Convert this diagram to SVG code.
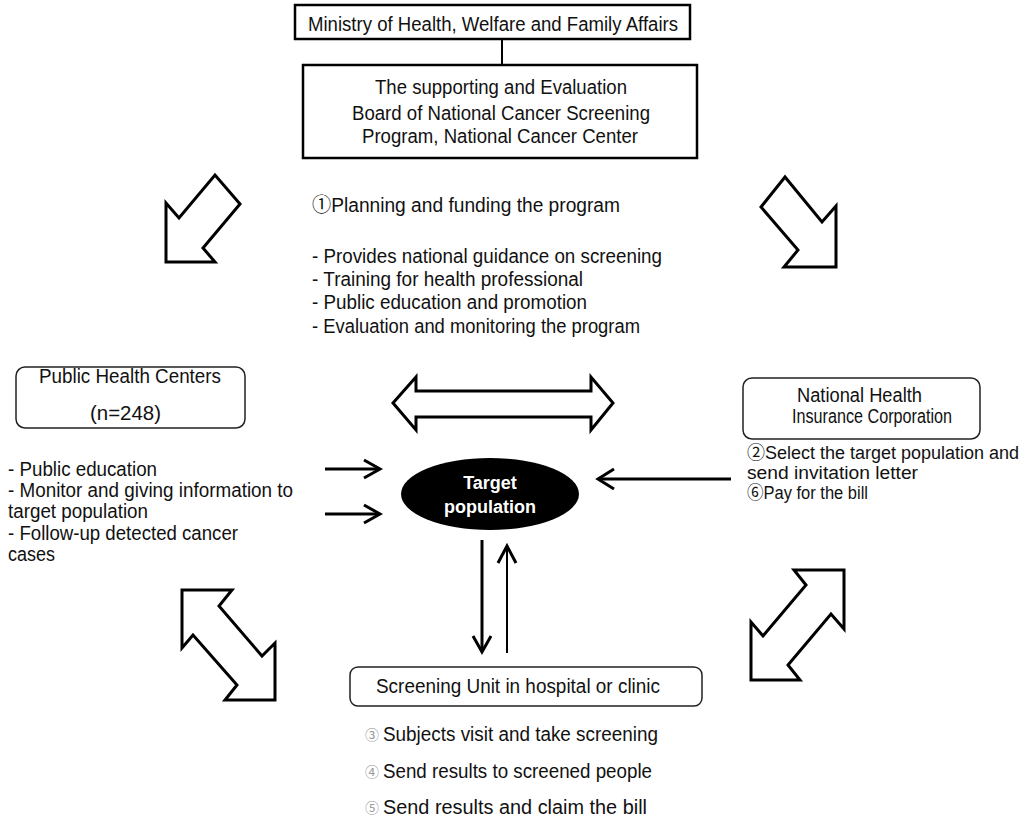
<svg xmlns="http://www.w3.org/2000/svg" width="1032" height="821" viewBox="0 0 1032 821">
<style>
.t{font-family:"Liberation Sans","Noto Sans CJK KR",sans-serif;font-size:20px;fill:#111}
.s{font-family:"Liberation Sans","Noto Sans CJK KR",sans-serif;font-size:18px;fill:#111}
.b{font-family:"Liberation Sans","Noto Sans CJK KR",sans-serif;font-size:20px;fill:#111}
.n{font-family:"Noto Sans CJK KR","DejaVu Sans",sans-serif;font-size:14px;fill:#999}
.w{font-family:"Liberation Sans",sans-serif;font-size:18px;font-weight:bold;fill:#fff;text-anchor:middle}
.box{fill:#fff;stroke:#000;stroke-width:2.5}
.rbox{fill:#fff;stroke:#222;stroke-width:1.5}
.hollow{fill:#fff;stroke:#000;stroke-width:3;stroke-linejoin:miter}
.ln{fill:none;stroke:#000;stroke-width:3}
.ln2{fill:none;stroke:#000;stroke-width:2}
</style>
<defs>
<clipPath id="phcClip"><rect x="16" y="368" width="229" height="60"/></clipPath>
</defs>
<rect width="1032" height="821" fill="#fff"/>

<g id="connectors">
<line class="ln2" x1="502" y1="39" x2="502" y2="65"/>
<polygon class="hollow" points="166,262 166,203 179,218 215,175 240,204 203,248 215,262"/>
<polygon class="hollow" points="785,177 761,207 798,250 784,267 836,267 836,206 822,222"/>
<polygon class="hollow" points="393,403 416,377 416,391 591,391 591,377 613,403 591,430 591,417 416,417 416,430"/>
<polygon class="hollow" points="182,590 232,590 219,606 262,656 275,643 275,700 225,700 237,685 193,635 182,648"/>
<polygon class="hollow" points="844,570 844,629 831,614 788,665 800,680 751,680 751,622 763,636 806,585 794,570"/>
<line class="ln" x1="325" y1="469" x2="378" y2="469"/>
<polyline class="ln" points="364,460 380,469 364,478"/>
<line class="ln" x1="325" y1="514" x2="378" y2="514"/>
<polyline class="ln" points="364,505 380,514 364,523"/>
<line class="ln" x1="600" y1="479" x2="731" y2="479"/>
<polyline class="ln" points="614,469 598,479 614,489"/>
<line class="ln" x1="482" y1="540" x2="482" y2="650"/>
<polyline class="ln" points="473,636 482,652 491,636"/>
<line class="ln2" x1="507" y1="653" x2="507" y2="548"/>
<polyline class="ln" points="498,563 507,546 516,563"/>
</g>

<g id="ministry">
<rect class="box" x="295" y="5" width="395" height="34"/>
<text class="t" x="308" y="31" textLength="370" lengthAdjust="spacingAndGlyphs">Ministry of Health, Welfare and Family Affairs</text>
</g>

<g id="board">
<rect class="box" x="303" y="65" width="394" height="93"/>
<text class="b" x="375" y="94" textLength="252" lengthAdjust="spacingAndGlyphs">The supporting and Evaluation</text>
<text class="b" x="352" y="120" textLength="298" lengthAdjust="spacingAndGlyphs">Board of National Cancer Screening</text>
<text class="b" x="362" y="143" textLength="276" lengthAdjust="spacingAndGlyphs">Program, National Cancer Center</text>
</g>

<g id="board-tasks">
<text class="t" x="312" y="212" textLength="308" lengthAdjust="spacingAndGlyphs">①Planning and funding the program</text>
<text class="t" x="312" y="263" textLength="350" lengthAdjust="spacingAndGlyphs">- Provides national guidance on screening</text>
<text class="t" x="312" y="286" textLength="271" lengthAdjust="spacingAndGlyphs">- Training for health professional</text>
<text class="t" x="312" y="309" textLength="275" lengthAdjust="spacingAndGlyphs">- Public education and promotion</text>
<text class="t" x="312" y="333" textLength="328" lengthAdjust="spacingAndGlyphs">- Evaluation and monitoring the program</text>
</g>

<g id="public-health-centers">
<rect class="rbox" x="16" y="367" width="229" height="61" rx="9"/>
<text class="t" x="39" y="383" textLength="182" lengthAdjust="spacingAndGlyphs" clip-path="url(#phcClip)">Public Health Centers</text>
<text class="t" x="90" y="420" textLength="71" lengthAdjust="spacingAndGlyphs">(n=248)</text>
<text class="t" x="8" y="476" textLength="149" lengthAdjust="spacingAndGlyphs">- Public education</text>
<text class="t" x="8" y="497" textLength="285" lengthAdjust="spacingAndGlyphs">- Monitor and giving information to</text>
<text class="t" x="8" y="518" textLength="140" lengthAdjust="spacingAndGlyphs">target population</text>
<text class="t" x="8" y="540" textLength="230" lengthAdjust="spacingAndGlyphs">- Follow-up detected cancer</text>
<text class="t" x="8" y="561" textLength="47" lengthAdjust="spacingAndGlyphs">cases</text>
</g>

<g id="nhic">
<rect class="rbox" x="743" y="378" width="237" height="61" rx="9"/>
<text class="t" x="797" y="402" textLength="125" lengthAdjust="spacingAndGlyphs">National Health</text>
<text class="t" x="792" y="423" textLength="160" lengthAdjust="spacingAndGlyphs">Insurance Corporation</text>
<text class="s" x="747" y="459" textLength="272" lengthAdjust="spacingAndGlyphs">②Select the target population and</text>
<text class="s" x="747" y="479" textLength="171" lengthAdjust="spacingAndGlyphs">send invitation letter</text>
<text class="s" x="747" y="499" textLength="121" lengthAdjust="spacingAndGlyphs">⑥Pay for the bill</text>
</g>

<g id="target-population">
<ellipse cx="490" cy="494" rx="89" ry="36" fill="#000"/>
<text class="w" x="490" y="489">Target</text>
<text class="w" x="490" y="513">population</text>
</g>

<g id="screening-unit">
<rect class="rbox" x="350" y="667" width="352" height="39" rx="8"/>
<text class="t" x="376" y="693" textLength="284" lengthAdjust="spacingAndGlyphs">Screening Unit in hospital or clinic</text>
<text class="n" x="365" y="740">③</text>
<text class="t" x="383" y="741" textLength="275" lengthAdjust="spacingAndGlyphs">Subjects visit and take screening</text>
<text class="n" x="365" y="777">④</text>
<text class="t" x="383" y="778" textLength="269" lengthAdjust="spacingAndGlyphs">Send results to screened people</text>
<text class="n" x="365" y="813">⑤</text>
<text class="t" x="383" y="814" textLength="264" lengthAdjust="spacingAndGlyphs">Send results and claim the bill</text>
</g>
</svg>
